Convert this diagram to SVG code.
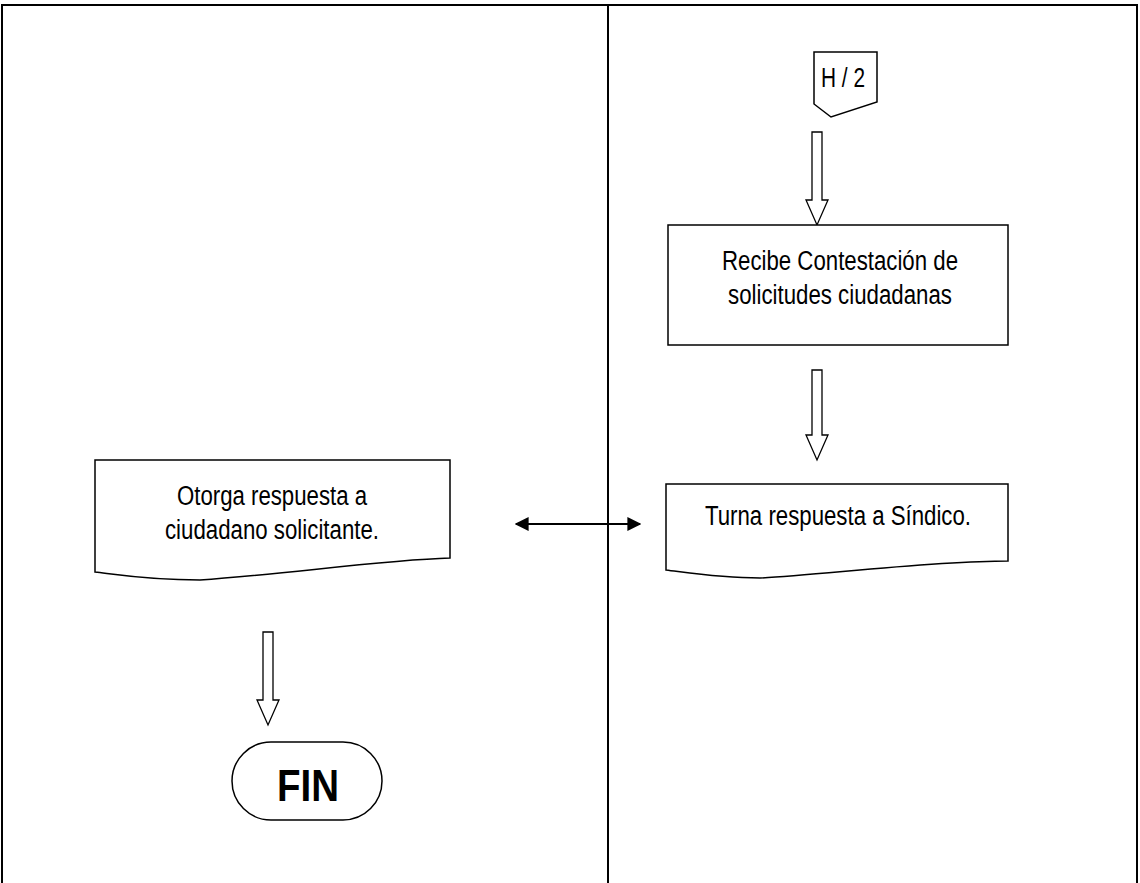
<svg xmlns="http://www.w3.org/2000/svg" width="1140" height="883" viewBox="0 0 1140 883">
<style>
.frame{stroke:#000;stroke-width:2;fill:none}
.shape{stroke:#000;stroke-width:1.5;fill:#fff}
.blk{stroke:#000;stroke-width:1.3;fill:#fff}
.t{font-family:"Liberation Sans Narrow","Liberation Sans",Arial,sans-serif;font-size:27px;fill:#000;text-anchor:middle}
.fin{font-family:"Liberation Sans Narrow","Liberation Sans",Arial,sans-serif;font-size:44px;font-weight:bold;fill:#000;text-anchor:middle}
</style>
<defs>
<marker id="ah" viewBox="0 0 10 10" refX="9" refY="5" markerWidth="14" markerHeight="14" markerUnits="userSpaceOnUse" orient="auto-start-reverse">
<path d="M0,0 L10,5 L0,10 z" fill="#000"/>
</marker>
</defs>
<rect width="1140" height="883" fill="#fff"/>
<g id="frame">
<path class="frame" d="M2,890 V5 H1137 V890 M608,5 V890"/>
</g>
<g id="connectors">
<path class="blk" d="M812,132 H822 V200 H828 L817,225 L806,200 H812 Z"/>
<path class="blk" d="M812,370 H822 V435 H828 L817,460 L806,435 H812 Z"/>
<path class="blk" d="M263,632 H273 V700 H279 L268,725 L257,700 H263 Z"/>
<line x1="516" y1="524" x2="640" y2="524" stroke="#000" stroke-width="2" marker-start="url(#ah)" marker-end="url(#ah)"/>
</g>
<g id="node-h2">
<path class="shape" d="M814,52 H877 V102 L831,117 L814,104 Z"/>
<text class="t" x="843" y="87" textLength="44" lengthAdjust="spacingAndGlyphs">H / 2</text>
</g>
<g id="node-recibe">
<rect class="shape" x="668" y="225" width="340" height="120"/>
<text class="t" x="840" y="270" textLength="236" lengthAdjust="spacingAndGlyphs">Recibe Contestación de</text>
<text class="t" x="840" y="304" textLength="224" lengthAdjust="spacingAndGlyphs">solicitudes ciudadanas</text>
</g>
<g id="node-turna">
<path class="shape" d="M666,484 H1008 V561 C930,561 820,575 760,578 C720,578 690,573 666,570 Z"/>
<text class="t" x="838" y="525" textLength="266" lengthAdjust="spacingAndGlyphs">Turna respuesta a Síndico.</text>
</g>
<g id="node-otorga">
<path class="shape" d="M95,460 H450 V558 C380,560 280,575 200,580 C150,580 120,575 95,572 Z"/>
<text class="t" x="272" y="505" textLength="190" lengthAdjust="spacingAndGlyphs">Otorga respuesta a</text>
<text class="t" x="272" y="539" textLength="214" lengthAdjust="spacingAndGlyphs">ciudadano solicitante.</text>
</g>
<g id="node-fin">
<rect class="shape" x="232" y="742" width="150" height="78" rx="39" ry="39"/>
<text class="fin" x="308" y="801" textLength="62" lengthAdjust="spacingAndGlyphs">FIN</text>
</g>
</svg>
